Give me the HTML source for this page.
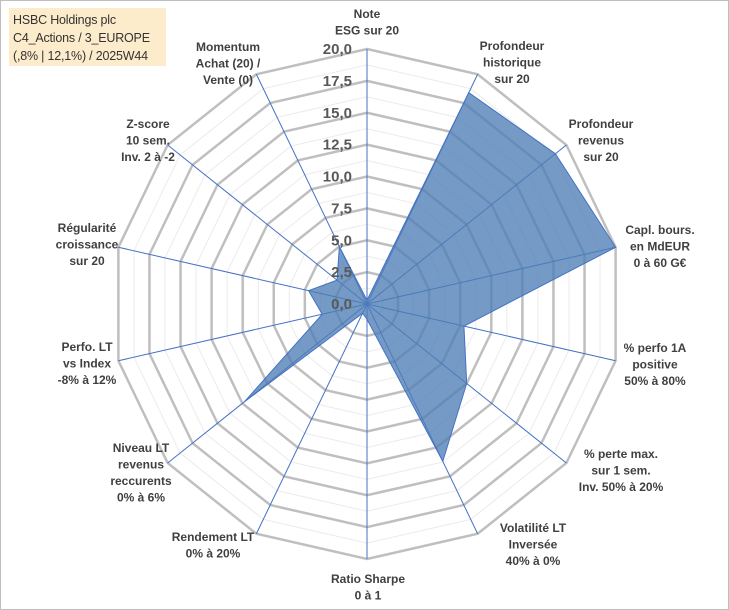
<!DOCTYPE html>
<html><head><meta charset="utf-8"><style>
body{margin:0;background:#fff;font-family:"Liberation Sans",sans-serif}
#wrap{position:relative;width:729px;height:610px;overflow:hidden}
#title{position:absolute;left:9px;top:8px;width:157px;height:58px;background:#fdeccb;font-size:12.5px;line-height:18px;color:#333;padding:3px 0 0 4px;box-sizing:border-box;white-space:nowrap;letter-spacing:-0.2px}
</style></head><body>
<div id="wrap">
<div id="title">HSBC Holdings plc<br>C4_Actions / 3_EUROPE<br>(,8% | 12,1%) / 2025W44</div>
<svg id="svg" width="729" height="610" style="position:absolute;left:0;top:0"></svg>
</div>
<script>
const categories=[["Note","ESG sur 20"],["Profondeur","historique","sur 20"],["Profondeur","revenus","sur 20"],["Capl. bours.","en MdEUR","0 à 60 G€"],["% perfo 1A","positive","50% à 80%"],["% perte max.","sur 1 sem.","Inv. 50% à 20%"],["Volatilité LT","Inversée","40% à 0%"],["Ratio Sharpe","0 à 1"],["Rendement LT","0% à 20%"],["Niveau LT","revenus","reccurents","0% à 6%"],["Perfo. LT","vs Index","-8% à 12%"],["Régularité","croissance","sur 20"],["Z-score","10 sem.","Inv. 2 à -2"],["Momentum","Achat (20) /","Vente (0)"]];
const values=[0.3,18.4,18.9,20,7.8,10.0,13.7,1.2,0.8,12.3,3.6,4.7,3.0,5.0];
const tickLabels=["0,0","2,5","5,0","7,5","10,0","12,5","15,0","17,5","20,0"];
const labelPos=[[367,14],[512,46],[601,124],[660,230],[655,348],[621,454],[533,528],[368,579],[213,537],[141,448],[87,347],[87,228],[148,124],[228,47]];
const svg=document.getElementById('svg');const NS='http://www.w3.org/2000/svg';
const cx=367,cy=304,R=255,maxV=20,n=categories.length;
function pt(i,v){const a=2*Math.PI*i/n;const r=R*v/maxV;return [cx+r*Math.sin(a),cy-r*Math.cos(a)];}
function mk(t,attrs){const e=document.createElementNS(NS,t);for(const k in attrs)e.setAttribute(k,attrs[k]);svg.appendChild(e);return e;}
let fr=mk('rect',{x:0.5,y:0.5,width:728,height:609,fill:'none',stroke:'#bfbfbf'});


for(let k=1;k<=16;k++){const v=k*1.25;const pts=[];for(let i=0;i<n;i++)pts.push(pt(i,v).join(','));
 const g=mk('polygon',{points:pts.join(' '),fill:'none',stroke:k%2?'#ebebeb':'#bfbfbf','stroke-width':k%2?1:2.5});
 
 }
for(let i=0;i<n;i++){const p=pt(i,maxV);const l=mk('line',{x1:cx,y1:cy,x2:p[0],y2:p[1],stroke:'#4472c4','stroke-width':1});
 
 }
const sp=values.map((v,i)=>pt(i,v).join(',')).join(' ');
const poly=mk('polygon',{points:sp,fill:'#4e7db6','fill-opacity':0.78,stroke:'#4472c4','stroke-width':1});


tickLabels.forEach((t,k)=>{const y=cy-R*k*2.5/maxV;const e=mk('text',{x:352,y:y+5,'text-anchor':'end','font-size':15,'font-weight':'bold',fill:'#595959'});e.textContent=t;
 
 });
categories.forEach((c,i)=>{const [x,y]=labelPos[i];const e=mk('text',{x:x,y:y+4,'text-anchor':'middle','font-size':12,'font-weight':'bold',fill:'#404040'});
 
 
 c.forEach((s,j)=>{const ts=document.createElementNS(NS,'tspan');ts.setAttribute('x',x);ts.setAttribute('dy',j?16.5:0);ts.textContent=s;e.appendChild(ts);});});
</script>
</body></html>
